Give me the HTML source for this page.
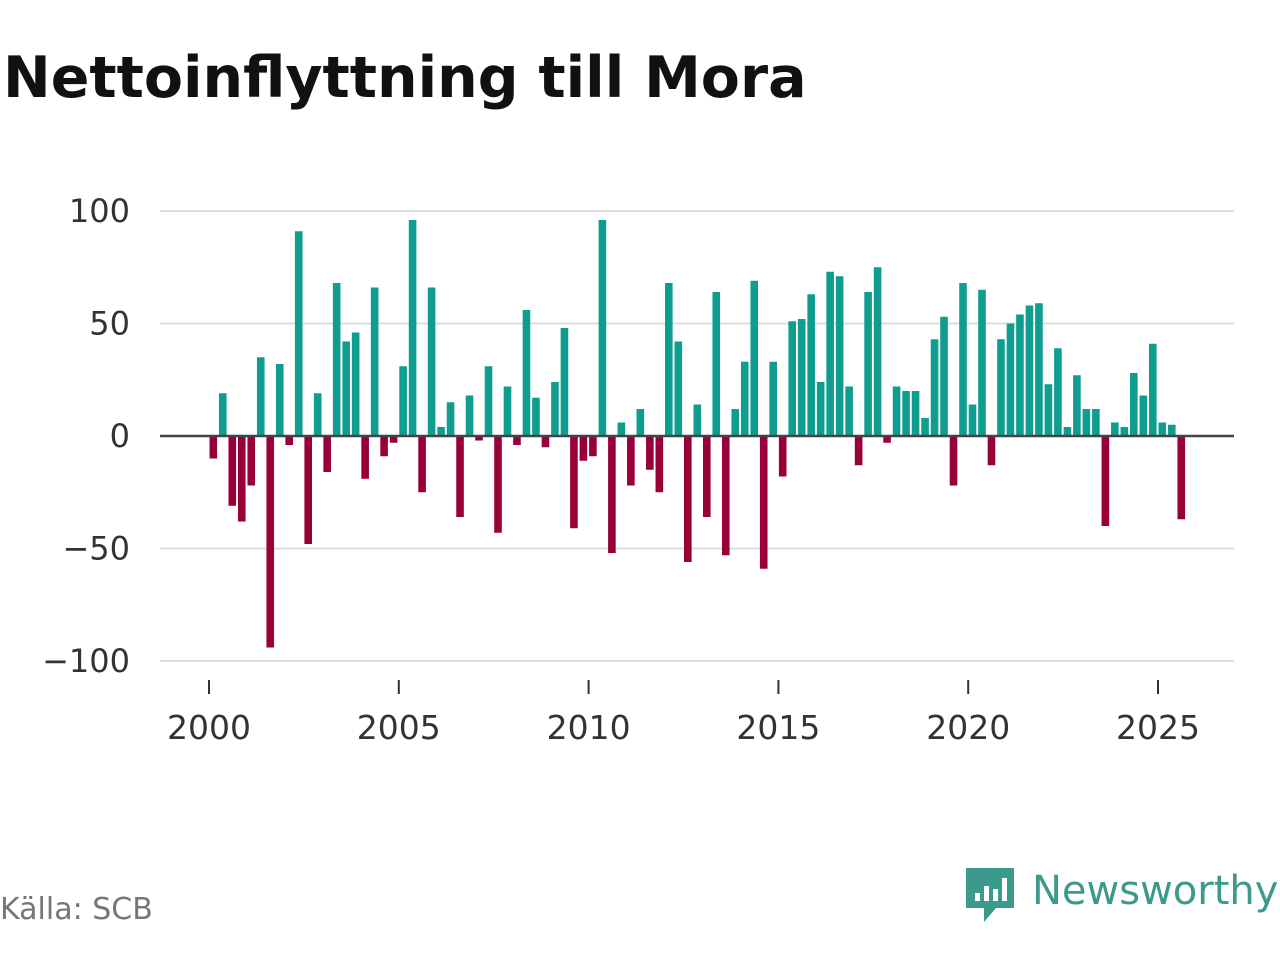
<!DOCTYPE html>
<html><head><meta charset="utf-8"><style>
body{margin:0;background:#fff;width:1280px;height:960px;overflow:hidden;font-family:"DejaVu Sans","Liberation Sans",sans-serif}
</style></head><body>
<svg width="1280" height="960">
<text x="3" y="97" font-size="57" font-weight="bold" fill="#111">Nettoinflyttning till Mora</text>
<g id="grid"></g><g id="bars"></g><g id="axes"></g>
<text x="0" y="919" font-size="30" fill="#777">Källa: SCB</text>
<g>
<path d="M966 868 h48 v40 h-18 l-12 14 v-14 h-18 z" fill="#3a9a8c"/>
<rect x="975" y="893" width="5" height="8" fill="#fff"/><rect x="984" y="886" width="5" height="15" fill="#fff"/><rect x="993" y="889" width="5" height="12" fill="#fff"/><rect x="1002" y="878" width="5" height="23" fill="#fff"/>
<text x="1032" y="904" font-size="40" fill="#3a9a8c">Newsworthy</text>
</g>
</svg>
<script>
const values=[-10,19,-31,-38,-22,35,-94,32,-4,91,-48,19,-16,68,42,46,-19,66,-9,-3,31,96,-25,66,4,15,-36,18,-2,31,-43,22,-4,56,17,-5,24,48,-41,-11,-9,96,-52,6,-22,12,-15,-25,68,42,-56,14,-36,64,-53,12,33,69,-59,33,-18,51,52,63,24,73,71,22,-13,64,75,-3,22,20,20,8,43,53,-22,68,14,65,-13,43,50,54,58,59,23,39,4,27,12,12,-40,6,4,28,18,41,6,5,-37];
const yTicks=[100,50,0,-50,-100];
const yTickLabels=["100","50","0","−50","−100"];
const xTicks=[2000,2005,2010,2015,2020,2025];
const NS="http://www.w3.org/2000/svg";
const y=v=>436-v*2.25;
const x=t=>209+(t-2000)*37.96;
function mk(tag,attrs,parent){const e=document.createElementNS(NS,tag);for(const k in attrs)e.setAttribute(k,attrs[k]);document.getElementById(parent).appendChild(e);return e;}
yTicks.forEach((v,i)=>{
 if(v!==0){const l=mk('line',{x1:160,x2:1234,y1:y(v),y2:y(v),stroke:'#ddd','stroke-width':2},'grid');
 
 }
 const t=mk('text',{x:130,y:y(v)+11,'font-size':32,fill:'#333','text-anchor':'end'},'axes');t.textContent=yTickLabels[i];
 
 
});
values.forEach((v,i)=>{
 const cx=x(2000+i*0.25)+4.3;
 const r=mk('rect',{x:cx-3.8,width:7.6,y:v>=0?y(v):y(0),height:Math.abs(y(v)-y(0)),fill:v>=0?'#0f9d8f':'#990039'},'bars');
 
 
});
const z=mk('line',{x1:160,x2:1234,y1:y(0),y2:y(0),stroke:'#444','stroke-width':2.5},'axes');


xTicks.forEach(t=>{
 const l=mk('line',{x1:x(t),x2:x(t),y1:680,y2:694,stroke:'#333','stroke-width':2},'axes');
 
 
 const tx=mk('text',{x:x(t),y:739,'font-size':33,fill:'#333','text-anchor':'middle'},'axes');tx.textContent=t;
 
 
});
</script>
</body></html>
